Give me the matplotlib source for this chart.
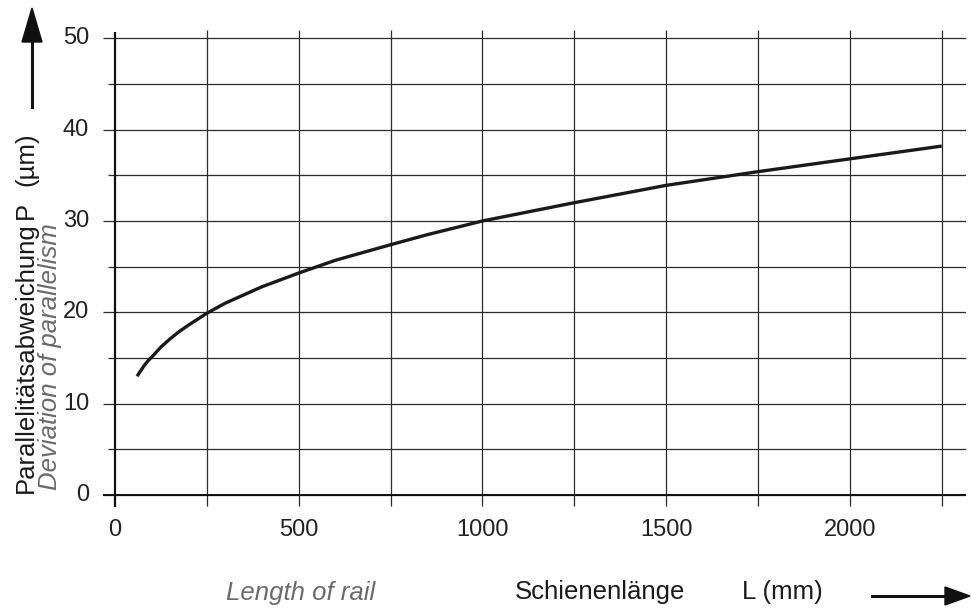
import matplotlib.pyplot as plt
import numpy as np

plt.rcParams['font.family'] = ['Liberation Sans', 'DejaVu Sans']

# rail length L (mm) and deviation of parallelism P (um)
length_mm = [60, 70, 80, 90, 100, 125, 150, 175, 200, 250, 300, 350, 400,
             500, 600, 750, 850, 1000, 1250, 1500, 1750, 2000, 2250]
deviation_um = [13.0, 13.6, 14.2, 14.7, 15.1, 16.2, 17.1, 17.9, 18.6, 19.9,
                21.0, 21.9, 22.8, 24.3, 25.7, 27.4, 28.5, 30.0, 32.0, 33.9,
                35.4, 36.8, 38.2]

x_ticks = [0, 500, 1000, 1500, 2000]
y_ticks = [0, 10, 20, 30, 40, 50]
x_grid = np.arange(0, 2251, 250)
y_grid = np.arange(0, 51, 5)

W, H = 971, 608
fig = plt.figure(figsize=(W / 100, H / 100), dpi=100)

# px -> data helpers (x0 at px 115, 2250 at px 941.7; y0 at px 495, 50 at px 38.3)
sx = (941.7 - 115) / 2250.0
sy = (495 - 38.3) / 50.0
px_l, px_r, px_t, px_b = 103, 966, 30, 507
ax = fig.add_axes([px_l / W, 1 - px_b / H, (px_r - px_l) / W, (px_b - px_t) / H])
ax.set_xlim((px_l - 115) / sx, (px_r - 115) / sx)
ax.set_ylim(-(px_b - 495) / sy, (495 - px_t) / sy)
ax.axis('off')

gcol = '#2b2b2b'
x_end = (px_r - 115) / sx
for yv in y_grid:
    start = -12 / sx if yv % 10 == 0 else -7 / sx
    ax.plot([start, x_end], [yv, yv], color=gcol, lw=0.9, solid_capstyle='butt')
for xv in x_grid[1:]:
    ax.plot([xv, xv], [-11 / sy, (495 - 30) / sy], color=gcol, lw=0.9,
            solid_capstyle='butt')
# left axis line
ax.plot([0, 0], [-13 / sy, (495 - 32) / sy], color='#111111', lw=1.6,
        solid_capstyle='butt')
ax.plot([-12 / sx, x_end], [0, 0], color='#111111', lw=1.4,
        solid_capstyle='butt')

ax.plot(length_mm, deviation_um, color='#1a1a1a', lw=2.4,
        solid_capstyle='butt')

fs = 17
tfs = 18.5
for yv in y_ticks:
    fig.text(89 / W, 1 - (495 - yv * sy) / H, str(yv), ha='right',
             va='center', fontsize=fs, color='#222222')
for xv in x_ticks:
    fig.text((115 + xv * sx) / W, 1 - 530 / H, str(xv), ha='center',
             va='center', fontsize=fs, color='#222222')

# y axis title
fig.text(26 / W, 1 - 493 / H, 'Parallelitätsabweichung', rotation=90,
         ha='center', va='bottom', fontsize=tfs, color='#1a1a1a')
fig.text(26 / W, 1 - 210 / H, 'P', rotation=90,
         ha='center', va='center', fontsize=tfs, color='#1a1a1a')
fig.text(26 / W, 1 - 159 / H, '(µm)', rotation=90,
         ha='center', va='center', fontsize=tfs, color='#1a1a1a')
fig.text(50 / W, 1 - 490 / H, 'Deviation of parallelism', rotation=90,
         ha='center', va='bottom', fontsize=tfs, color='#6a6a6a',
         style='italic')
fig.add_artist(plt.Line2D([32 / W, 32 / W], [1 - 107 / H, 1 - 38 / H],
                          color='#111111', lw=2.2))
fig.add_artist(plt.Polygon([[32 / W, 1 - 8 / H], [22 / W, 1 - 42 / H],
                            [42 / W, 1 - 42 / H]], closed=True,
                           color='#111111', transform=fig.transFigure))

# x axis title
fig.text(301 / W, 1 - 593 / H, 'Length of rail', ha='center', va='center',
         fontsize=tfs, color='#6a6a6a', style='italic')
fig.text(600 / W, 1 - 592 / H, 'Schienenlänge', ha='center', va='center',
         fontsize=tfs, color='#1a1a1a')
fig.text(782 / W, 1 - 592 / H, 'L (mm)', ha='center', va='center',
         fontsize=tfs, color='#1a1a1a')
fig.add_artist(plt.Line2D([872 / W, 948 / W], [1 - 596 / H, 1 - 596 / H],
                          color='#111111', lw=2.2))
fig.add_artist(plt.Polygon([[970 / W, 1 - 596 / H], [945 / W, 1 - 587 / H],
                            [945 / W, 1 - 605 / H]], closed=True,
                           color='#111111', transform=fig.transFigure))

fig.savefig('out.png', dpi=100)
